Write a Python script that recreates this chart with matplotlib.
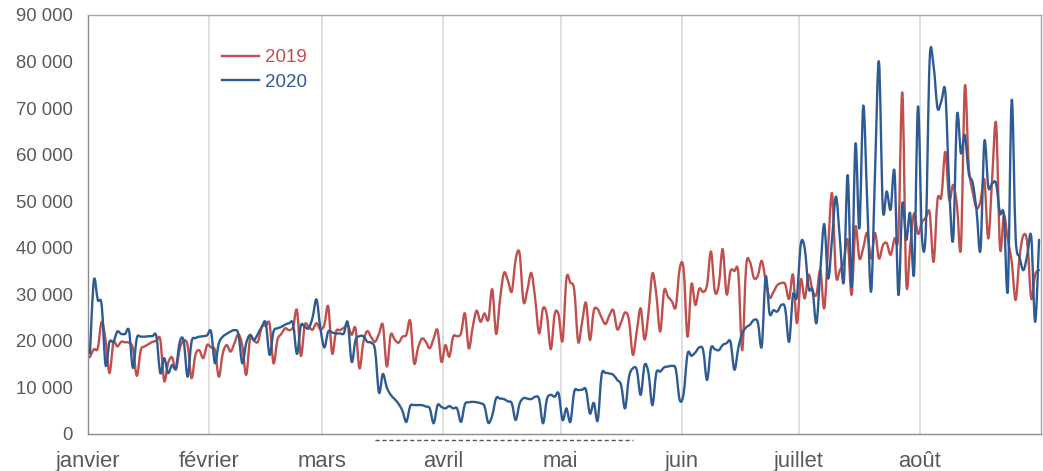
import numpy as np
import matplotlib
matplotlib.use("Agg")
import matplotlib.pyplot as plt
import matplotlib.transforms as mtransforms
from matplotlib.path import Path
from matplotlib.patches import PathPatch
from matplotlib.lines import Line2D

plt.rcParams["font.family"] = ["Liberation Sans", "DejaVu Sans"]

MONTHS = ["janvier", "février", "mars", "avril", "mai", "juin", "juillet", "août"]
DAYS_IN_MONTH = [31, 29, 31, 30, 31, 30, 31, 31]

# confinement period (day index from 1 jan)
CONF_START = 73
CONF_END = 139

# daily values, 1 jan -> 31 aug
y2019 = [
    16500, 18200, 18400, 24100, 20200, 13100, 19600, 18800, 19800, 19700,
    19600, 18400, 12500, 18000, 18800, 19300, 19800, 20000, 20300, 11400,
    15200, 16500, 13800, 18400, 20000, 19100, 12000, 17000, 18000, 16300,
    19100, 18600, 18000, 12300, 17300, 19100, 17700, 19500, 21400, 19000,
    12700, 20500, 20000, 19800, 23000, 23300, 23600, 15200, 20200, 21500,
    22700, 22300, 23000, 26600, 16800, 23400, 23000, 22400, 23800, 22500,
    23400, 27400, 17300, 22000, 22300, 22800, 23400, 21300, 22700, 14100,
    19800, 22100, 20800, 19800, 21500, 23400, 14500, 21300, 20300, 19600,
    20900, 21300, 24300, 15200, 18500, 20500, 19800, 18400, 20500, 22300,
    15500, 19100, 16600, 20900, 21000, 21600, 25900, 18400, 23000, 26500,
    24100, 25900, 24500, 31100, 21500, 29000, 34600, 33000, 30600, 37500,
    38800, 28400, 31000, 34600, 29000, 21600, 27000, 25500, 18200, 25800,
    25600, 20000, 33400, 32500, 30900, 19800, 24000, 28200, 20200, 26500,
    26800, 25000, 23600, 25500, 26600, 22500, 24000, 26100, 24500, 17000,
    22000, 27000, 20300, 26000, 34500, 30000, 22000, 30800, 29500, 28500,
    27300, 35600, 35400, 20900, 32200, 27700, 31200, 30500, 32000, 39200,
    30600, 32000, 39700, 30000, 35000, 35000, 34600, 18000, 36000, 36900,
    33500, 34000, 37200, 33000, 29300, 30500, 32000, 32400, 32200, 29000,
    34200, 23800, 33200, 29100, 34200, 30900, 29900, 35200, 27000, 40000,
    51700, 34200, 35200, 37000, 41700, 29900, 44500, 37700, 40000, 43200,
    37700, 43200, 37700, 40500, 41000, 38500, 42000, 43000, 73300, 32700,
    40200, 47400, 43000, 45400, 46500, 47500, 37000, 50300, 51000, 60600,
    50300, 53500, 49000, 40100, 74600, 57500, 52000, 48500, 50000, 54600,
    42000, 55000, 66700, 39900, 47000, 41700, 37000, 28800, 38000, 42700,
    41000, 29100, 34200, 35200,
]

y2020 = [
    17300, 33000, 28800, 27700, 14800, 19800, 19800, 22000, 21500, 21500,
    22200, 14200, 20600, 20900, 20900, 21000, 21000, 21000, 13100, 16300,
    13100, 14800, 14200, 19800, 20000, 12300, 19800, 20600, 20900, 21000,
    21200, 22000, 15200, 19500, 20900, 21500, 22000, 22300, 21500, 15200,
    19500, 21300, 20200, 21500, 23000, 23900, 17000, 22000, 22700, 23000,
    23500, 23800, 23700, 17200, 23300, 23000, 22700, 25000, 28900, 22700,
    18600, 22000, 21800, 21600, 21600, 21600, 24000, 15500, 20200, 21000,
    21000, 19800, 19600, 18000, 8900, 12900, 10000, 8400, 7500, 6500,
    5000, 2600, 6000, 6200, 6200, 6200, 5900, 5500, 2300, 6200,
    5800, 5500, 6000, 5500, 5500, 2600, 6400, 6800, 6900, 6800,
    6600, 6000, 2400, 4000, 7700, 7600, 7500, 7000, 6600, 3000,
    6500, 7700, 7600, 7500, 8000, 7500, 2300, 7500, 8400, 8000,
    8700, 3000, 5500, 2600, 9100, 9400, 9500, 9500, 4400, 6700,
    2900, 12700, 13100, 13000, 12700, 11600, 10500, 5500, 12200, 14100,
    13800, 8400, 14800, 13100, 6200, 13100, 13400, 14300, 14500, 14600,
    13900, 7300, 8700, 17200, 16800, 17500, 18600, 18000, 11600, 18400,
    18200, 18000, 19100, 19500, 19800, 13800, 18500, 21600, 22900, 23500,
    24500, 24000, 18800, 33800, 25900, 26600, 26300, 27700, 27000, 19800,
    29900, 29500, 40800, 39900, 31300, 30900, 23800, 35000, 45100, 33400,
    42000, 51000, 42000, 32700, 55600, 31600, 62300, 44200, 70500, 50000,
    30600, 56000, 80000, 48500, 52100, 48200, 56300, 29900, 49500, 41700,
    47400, 34500, 70300, 42700, 43600, 80500, 79000, 70000, 71500, 73500,
    53100, 41700, 68500, 60300, 64200, 56000, 54000, 48000, 39500, 62800,
    53100, 53800, 53800, 47400, 47000, 30900, 71700, 42400, 38000, 35200,
    38500, 42400, 24100, 41700,
]

RED = "#C0504D"
BLUE = "#2F5B95"
GREY = "#595959"


def smooth_path(x, y):
    # Excel-like smoothed line: cubic bezier through every point
    x = np.asarray(x, float)
    y = np.asarray(y, float)
    pts = np.column_stack([x, y])
    ext = np.vstack([pts[0], pts, pts[-1]])
    verts = [pts[0]]
    codes = [Path.MOVETO]
    for k in range(len(pts) - 1):
        p0, p1, p2, p3 = ext[k], ext[k + 1], ext[k + 2], ext[k + 3]
        c1 = p1 + (p2 - p0) / 6.0
        c2 = p2 - (p3 - p1) / 6.0
        verts += [c1, c2, p2]
        codes += [Path.CURVE4] * 3
    return Path(verts, codes)


days = np.arange(len(y2020))
month_starts = np.concatenate([[0], np.cumsum(DAYS_IN_MONTH)[:-1]])

fig = plt.figure(figsize=(10.43, 4.71), dpi=100)
ax = fig.add_axes([88 / 1043, 37 / 471, 953 / 1043, 419 / 471])

LW = 1.7
for vals, col in [(y2019, RED), (y2020, BLUE)]:
    ax.add_patch(PathPatch(smooth_path(days, vals), facecolor="none", edgecolor=col,
                           lw=LW, zorder=3, joinstyle="round", capstyle="round"))

ax.set_xlim(-0.5, sum(DAYS_IN_MONTH) - 0.5)
ax.set_ylim(0, 90000)

ax.set_xticks(month_starts - 0.5)
ax.set_xticklabels(MONTHS)
yt = np.arange(0, 90001, 10000)
ax.set_yticks(yt)
ax.set_yticklabels([f"{v:,}".replace(",", " ") for v in yt])
ax.tick_params(axis="both", length=0, colors=GREY)
ax.tick_params(axis="x", pad=12, labelsize=15.8)
ax.tick_params(axis="y", pad=11, labelsize=13.3)

ax.grid(axis="x", color="#D9D9D9", lw=1.2)
ax.set_axisbelow(True)
for s in ax.spines.values():
    s.set_color("#A6A6A6")
    s.set_linewidth(1.0)
ax.spines["left"].set_color("#8C8C8C")
ax.spines["bottom"].set_color("#8C8C8C")

# dashed bar under the axis for the confinement
trans = mtransforms.blended_transform_factory(ax.transData, ax.transAxes)
ax.plot([CONF_START, CONF_END], [-0.015, -0.015], transform=trans, clip_on=False,
        color=GREY, lw=1, ls=(0, (3, 2)))

handles = [Line2D([], [], color=RED, lw=LW), Line2D([], [], color=BLUE, lw=LW)]
ax.legend(handles, ["2019", "2020"], loc="upper left", bbox_to_anchor=(0.127, 0.95),
          frameon=False, fontsize=13.5, handlelength=1.95, handletextpad=0.35,
          labelspacing=0.4, labelcolor="linecolor", borderaxespad=0.3)

fig.savefig("out.png", dpi=100)
